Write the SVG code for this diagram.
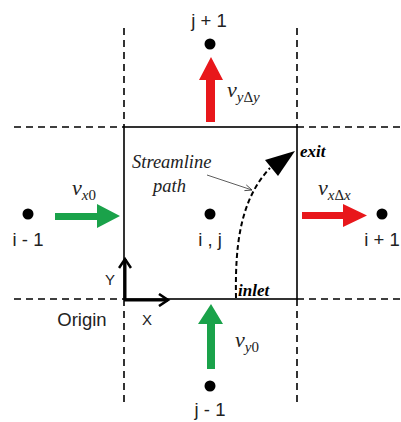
<svg xmlns="http://www.w3.org/2000/svg" width="401" height="422" viewBox="0 0 401 422">
<style>
.dash{stroke:#000;stroke-width:1.6;stroke-dasharray:7,5;fill:none}
.solid{stroke:#000;stroke-width:1.6;fill:none}
.lbl{font-family:"Liberation Sans",Arial,sans-serif;font-size:18.5px;fill:#222;text-anchor:middle}
.v{font-family:"Liberation Serif","Times New Roman",serif;font-style:italic;font-size:22px;fill:#222}
.sub{font-size:15px}
.up{font-style:normal}
.it{font-family:"Liberation Serif","Times New Roman",serif;font-style:italic;font-size:18.5px;fill:#222}
.bi{font-family:"Liberation Serif","Times New Roman",serif;font-style:italic;font-weight:bold;font-size:17px;fill:#000}
.dot{fill:#000}
.red{fill:#e8171b}
.green{fill:#1aa24a}
</style>
<defs>
<marker id="open" markerWidth="14" markerHeight="14" refX="11" refY="7" orient="auto" markerUnits="userSpaceOnUse">
<path d="M2,1 L11,7 L2,13" fill="none" stroke="#000" stroke-width="2.6"/>
</marker>
<marker id="thin" markerWidth="8" markerHeight="8" refX="7" refY="4" orient="auto" markerUnits="userSpaceOnUse">
<path d="M0,1 L7,4 L0,7" fill="none" stroke="#333" stroke-width="0.8"/>
</marker>
</defs>
<g id="grid">
<line class="dash" x1="124" y1="28" x2="124" y2="127"/>
<line class="dash" x1="124" y1="299" x2="124" y2="405"/>
<line class="dash" x1="297" y1="28" x2="297" y2="127"/>
<line class="dash" x1="297" y1="299" x2="297" y2="405"/>
<line class="dash" x1="14" y1="127" x2="124" y2="127"/>
<line class="dash" x1="297" y1="127" x2="400" y2="127"/>
<line class="dash" x1="14" y1="299" x2="124" y2="299"/>
<line class="dash" x1="297" y1="299" x2="400" y2="299"/>
</g>
<g id="cell">
<rect class="solid" x="124" y="127" width="173" height="172"/>
</g>
<g id="node-j1">
<circle class="dot" cx="210" cy="44" r="5.5"/>
<text class="lbl" x="209" y="27">j + 1</text>
</g>
<g id="node-im1">
<circle class="dot" cx="28" cy="214" r="5.5"/>
<text class="lbl" x="28" y="246">i - 1</text>
</g>
<g id="node-ij">
<circle class="dot" cx="210" cy="214" r="5.5"/>
<text class="lbl" x="210" y="246">i , j</text>
</g>
<g id="node-ip1">
<circle class="dot" cx="382" cy="214" r="5.5"/>
<text class="lbl" x="382" y="246">i + 1</text>
</g>
<g id="node-jm1">
<circle class="dot" cx="210" cy="386" r="5.5"/>
<text class="lbl" x="210" y="416">j - 1</text>
</g>
<g id="connectors">
<polygon class="red" points="206,122 215,122 215,80 223,80 211,57 199,80 206,80"/>
<polygon class="green" points="55,213 97,213 97,204 120,216 97,228 97,220 55,220"/>
<polygon class="red" points="302,212 343,212 343,204 367,215.5 343,227 343,219 302,219"/>
<polygon class="green" points="207,369 215,369 215,324 223,324 211,304 198,324 207,324"/>
<line x1="125" y1="300" x2="125" y2="259" stroke="#000" stroke-width="3" marker-end="url(#open)"/>
<line x1="124" y1="300" x2="168" y2="300" stroke="#000" stroke-width="3" marker-end="url(#open)"/>
<path d="M236,298 C235,245 240,200 270,168" fill="none" stroke="#000" stroke-width="2" stroke-dasharray="5,3"/>
<polygon points="295,151 278,176 265,160" fill="#000"/>
<line x1="207" y1="175" x2="252" y2="190" stroke="#333" stroke-width="0.8" marker-end="url(#thin)"/>
</g>
<g id="labels">
<text class="v" x="227" y="97">v<tspan class="sub" dy="5">y<tspan class="up">Δ</tspan>y</tspan></text>
<text class="v" x="72" y="195">v<tspan class="sub" dy="5">x<tspan class="up">0</tspan></tspan></text>
<text class="v" x="318" y="195">v<tspan class="sub" dy="5">x<tspan class="up">Δ</tspan>x</tspan></text>
<text class="v" x="235" y="347">v<tspan class="sub" dy="5">y<tspan class="up">0</tspan></tspan></text>
<text class="it" x="132" y="168">Streamline</text>
<text class="it" x="153" y="192">path</text>
<text class="bi" x="300" y="157">exit</text>
<text class="bi" x="238" y="296">inlet</text>
<text class="lbl" x="110" y="285" style="font-size:15px">Y</text>
<text class="lbl" x="147" y="325" style="font-size:15px">X</text>
<text class="lbl" x="82" y="326">Origin</text>
</g>
</svg>
